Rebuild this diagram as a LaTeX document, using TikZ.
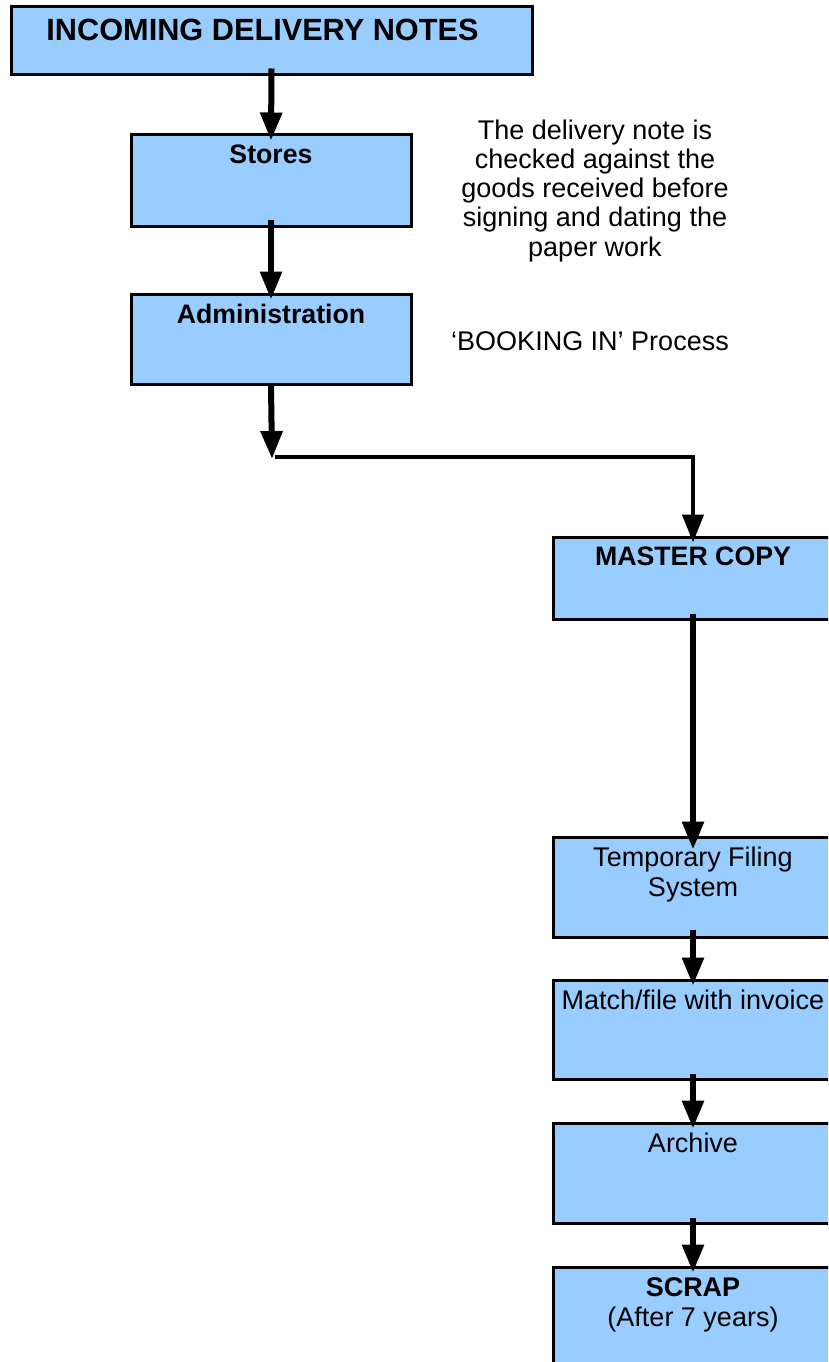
\documentclass[tikz,border=0pt]{standalone}
\usepackage{fontspec}
\setmainfont{Liberation Sans}
\usetikzlibrary{arrows.meta}
\definecolor{boxblue}{HTML}{99CCFF}
\begin{document}
\begin{tikzpicture}[x=1pt,y=-1pt,
  box/.style={draw=black, line width=3pt, fill=boxblue, rectangle, inner sep=0pt, minimum width=280pt},
  txt/.style={inner sep=0pt, align=center, font=\fontsize{27}{30}\selectfont, anchor=north, yshift=-11.5pt},
  btxt/.style={inner sep=0pt, align=center, font=\fontsize{26.7}{30}\selectfont\bfseries, anchor=north, yshift=-11.5pt},
  ttxt/.style={inner sep=0pt, align=center, font=\fontsize{30.7}{35}\selectfont\bfseries, anchor=north, yshift=-13.5pt, xshift=-9pt},
  note/.style={inner sep=0pt, align=center, font=\fontsize{27}{29.2}\selectfont, anchor=north},
  arr/.style={line width=6pt, -{Triangle[length=28pt,width=21pt]}},
  harr/.style={line width=4.5pt, -{Triangle[length=28pt,width=21pt]}}]
\clip (0,0) rectangle (828,1362);
\fill[white] (0,0) rectangle (828,1362);

% boxes
\node[box, minimum width=521pt, minimum height=68pt, label={[ttxt]north:INCOMING DELIVERY NOTES}] (top) at (271.5,41) {};
\node[box, minimum height=91pt, label={[btxt]north:Stores}] (stores) at (271,180.5) {};
\node[box, minimum height=90pt, label={[btxt]north:Administration}] (admin) at (271,339) {};
\node[box, minimum height=82pt, label={[btxt]north:MASTER COPY}] (master) at (693,578) {};
\node[box, minimum height=100pt, label={[txt]north:{Temporary Filing\\System}}] (temp) at (693,887) {};
\node[box, minimum height=99pt, label={[txt]north:Match/file with invoice}] (match) at (693,1029.5) {};
\node[box, minimum height=100pt, label={[txt]north:Archive}] (archive) at (693,1173) {};
\node[box, minimum height=108pt, label={[txt]north:{\textbf{SCRAP}\\(After 7 years)}}] (scrap) at (693,1321) {};

% notes
\node[note] (desc) at (595,119.5) {The delivery note is\\checked against the\\goods received before\\signing and dating the\\paper work};
\node[note] (booking) at (590,331.5) {‘BOOKING IN’ Process};

% connectors
\draw[arr] ([yshift=8pt]top.south) -- ([yshift=-7pt]stores.north);
\draw[arr] ([yshift=8pt]stores.south) -- ([yshift=-7pt]admin.north);
\coordinate (turn) at (272,459);
\coordinate (hstart) at (275,457);
\draw[arr] (admin.south) -- (turn);
\draw[harr] (hstart) -| ([yshift=-7pt]master.north);
\draw[arr] ([yshift=7pt]master.south) -- ([yshift=-14pt]temp.north);
\draw[arr] ([yshift=9pt]temp.south) -- ([yshift=-7pt]match.north);
\draw[arr] ([yshift=7pt]match.south) -- ([yshift=-7pt]archive.north);
\draw[arr] ([yshift=7pt]archive.south) -- ([yshift=-7pt]scrap.north);
\end{tikzpicture}
\end{document}
